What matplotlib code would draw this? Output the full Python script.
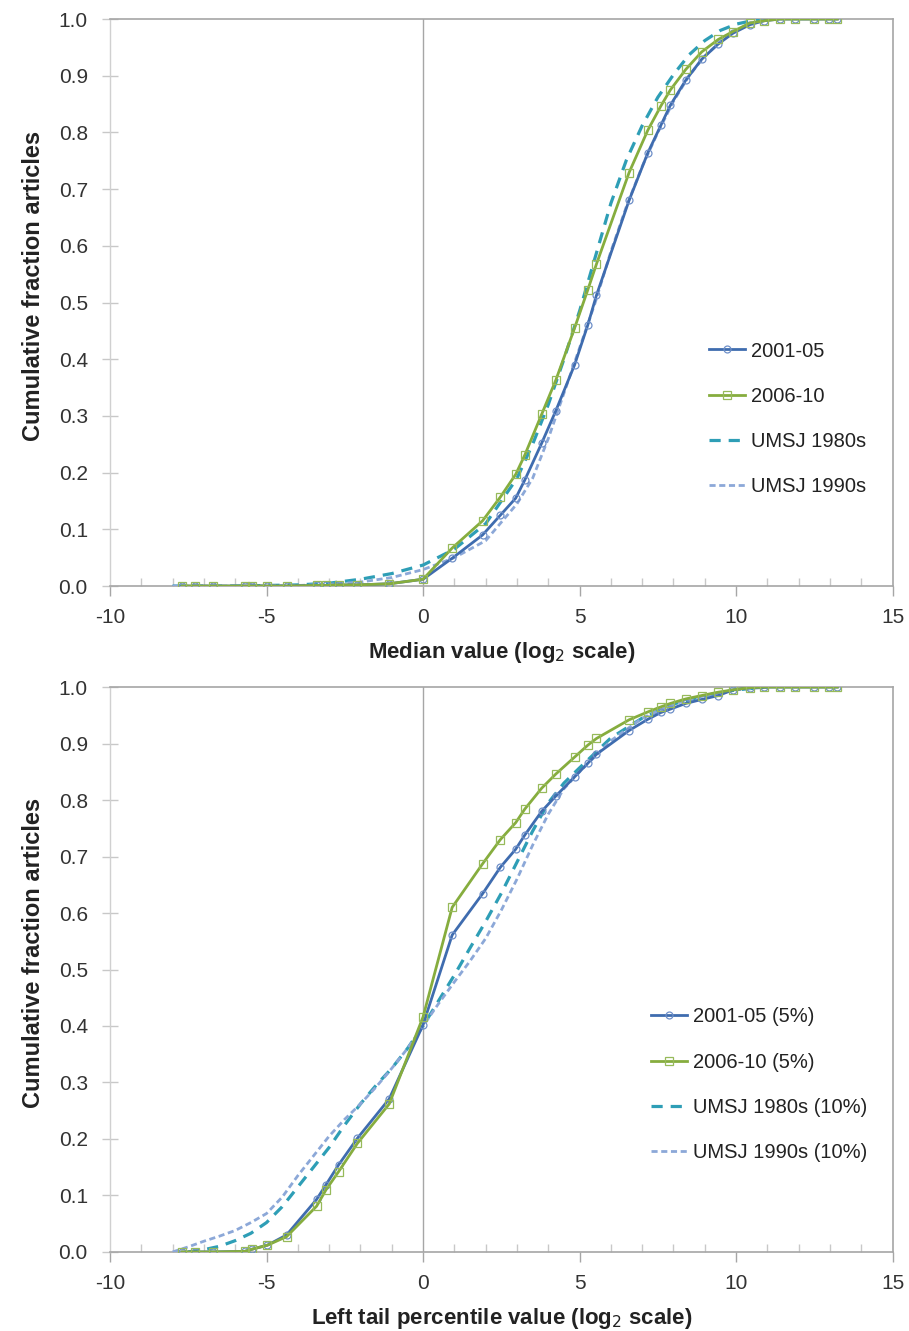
import matplotlib.pyplot as plt
from matplotlib.ticker import MultipleLocator, FormatStrFormatter

plt.rcParams["font.family"] = ["Liberation Sans Narrow", "Liberation Sans", "DejaVu Sans"]
plt.rcParams["axes.unicode_minus"] = False

# bin positions (log2) shared by the two period series
x_bins = [-7.7, -7.3, -6.7, -5.7, -5.45, -4.97, -4.36, -3.4, -3.1, -2.7, -2.1, -1.08,
          0, 0.93, 1.9, 2.47, 2.96, 3.25, 3.79, 4.24, 4.84, 5.26, 5.54, 6.58, 7.18,
          7.6, 7.9, 8.39, 8.9, 9.43, 9.9, 10.44, 10.9, 11.39, 11.89, 12.48, 12.96, 13.23]

# median values
med_2001 = [0, 0, 0, 0, 0, 0, 0, 0.001, 0.001, 0.002, 0.002, 0.004,
            0.012, 0.049, 0.09, 0.125, 0.155, 0.187, 0.252, 0.309, 0.39, 0.46, 0.513, 0.68, 0.764,
            0.813, 0.848, 0.892, 0.929, 0.956, 0.975, 0.99, 0.997, 1, 1, 1, 1, 1]
med_2006 = [0, 0, 0, 0, 0, 0, 0, 0.001, 0.001, 0.002, 0.002, 0.004,
            0.012, 0.067, 0.115, 0.157, 0.197, 0.231, 0.303, 0.363, 0.455, 0.522, 0.568, 0.729, 0.804,
            0.847, 0.875, 0.911, 0.942, 0.964, 0.978, 0.993, 0.997, 1, 1, 1, 1, 1]

x_umsj_med = [-8, -6, -4, -3, -2, -1, 0, 1, 2, 3, 3.5, 4, 4.5, 5, 5.5, 6, 6.5,
              7, 7.5, 8, 8.5, 9, 9.5, 10, 10.5, 11]
med_1980s = [0, 0, 0.002, 0.005, 0.012, 0.022, 0.037, 0.065, 0.11, 0.19, 0.25, 0.32, 0.40,
             0.485, 0.58, 0.675, 0.752, 0.812, 0.862, 0.902, 0.937, 0.962, 0.98, 0.991, 0.997, 1.0]
med_1990s = [0, 0, 0.001, 0.003, 0.007, 0.015, 0.029, 0.05, 0.08, 0.145, 0.19, 0.26, 0.34,
             0.42, 0.5, 0.59, 0.67, 0.74, 0.80, 0.855, 0.9, 0.935, 0.96, 0.98, 0.993, 1.0]

# left tail values
tail_2001 = [0, 0, 0, 0.001, 0.005, 0.012, 0.03, 0.093, 0.119, 0.154, 0.201, 0.271,
             0.402, 0.561, 0.634, 0.681, 0.713, 0.738, 0.78, 0.807, 0.841, 0.865, 0.881, 0.923, 0.943,
             0.955, 0.961, 0.971, 0.978, 0.985, 0.995, 0.999, 1, 1, 1, 1, 1, 1]
tail_2006 = [0, 0, 0, 0.001, 0.005, 0.012, 0.027, 0.081, 0.11, 0.142, 0.192, 0.262,
             0.416, 0.61, 0.687, 0.73, 0.76, 0.784, 0.821, 0.846, 0.876, 0.897, 0.909, 0.942, 0.956,
             0.965, 0.971, 0.979, 0.985, 0.991, 0.995, 0.999, 1, 1, 1, 1, 1, 1]

x_umsj_tail = [-8, -7.5, -7, -6.5, -6, -5.5, -5, -4.5, -4, -3.5, -3, -2.5, -2, -1.5, -1, -0.5,
               0, 0.5, 1, 1.5, 2, 2.5, 3, 3.5, 4, 4.5, 5, 6, 7, 8, 9, 10, 11]
tail_1980s = [None, 0, 0.004, 0.01, 0.02, 0.033, 0.052, 0.08, 0.115, 0.15, 0.185, 0.225, 0.262,
              0.295, 0.325, 0.36, 0.40, 0.445, 0.49, 0.538, 0.585, 0.635, 0.69, 0.745, 0.795,
              0.83, 0.857, 0.91, 0.945, 0.97, 0.985, 0.995, 1.0]
tail_1990s = [0, 0.009, 0.019, 0.028, 0.038, 0.052, 0.068, 0.097, 0.135, 0.17, 0.205, 0.235,
              0.262, 0.292, 0.325, 0.36, 0.40, 0.44, 0.478, 0.515, 0.555, 0.605, 0.66, 0.72,
              0.775, 0.82, 0.85, 0.905, 0.945, 0.97, 0.985, 0.995, 1.0]

labels_med = ["2001-05", "2006-10", "UMSJ 1980s", "UMSJ 1990s"]
labels_tail = ["2001-05 (5%)", "2006-10 (5%)", "UMSJ 1980s (10%)", "UMSJ 1990s (10%)"]

c_blue = "#3F6CAF"
c_green = "#86AD3E"
c_teal = "#2E9EB6"
c_light = "#8CA8D8"
c_axis = "#A6A6A6"


def draw_panel(ax, x80_all, y80, x90, y90, y01, y06, labels, xlabel, legend_pos):
    # skip points where the 1980s series has no value
    x80 = [x for x, y in zip(x80_all, y80) if y is not None]
    v80 = [y for y in y80 if y is not None]

    ax.axvline(0, color=c_axis, lw=1.0, zorder=1)
    ax.plot(x_bins, y01, color=c_blue, lw=2.0, marker="o", ms=5, mfc="none",
            mec="#6E8FC8", mew=0.9, label=labels[0], zorder=4)
    ax.plot(x_bins, y06, color=c_green, lw=2.0, marker="s", ms=5.5, mfc="none",
            mec="#97BA5A", mew=0.9, label=labels[1], zorder=5)
    ax.plot(x80, v80, color=c_teal, lw=2.3, ls=(0, (3.5, 2.5)), label=labels[2], zorder=3)
    ax.plot(x90, y90, color=c_light, lw=2.0, ls=(0, (2.2, 1.3)), label=labels[3], zorder=3)

    ax.set_xlim(-10, 15)
    ax.set_ylim(0, 1.0)
    ax.xaxis.set_major_locator(MultipleLocator(5))
    ax.xaxis.set_minor_locator(MultipleLocator(1))
    ax.yaxis.set_major_locator(MultipleLocator(0.1))
    ax.yaxis.set_major_formatter(FormatStrFormatter("%.1f"))

    for side in ["top", "right", "bottom"]:
        ax.spines[side].set_color(c_axis)
        ax.spines[side].set_linewidth(1.2)
    ax.spines["left"].set_color("#D0D0D0")
    ax.spines["left"].set_linewidth(1.0)

    ax.tick_params(axis="x", which="major", direction="out", length=7, width=1.0,
                   color=c_axis, labelsize=15, labelcolor="#333333", pad=9)
    ax.tick_params(axis="x", which="minor", direction="in", length=6, width=1.0, color="#C8C8C8")
    ax.tick_params(axis="y", direction="inout", length=12, width=1.0, color="#C8C8C8",
                   labelsize=15, labelcolor="#333333", pad=10)

    ax.set_xlabel(xlabel, fontsize=16, fontweight="bold", labelpad=9, color="#222222")
    ax.set_ylabel("Cumulative fraction articles", fontsize=17, fontweight="bold",
                  color="#222222")
    ax.yaxis.set_label_coords(-0.083, 0.53)

    leg = ax.legend(loc="center left", bbox_to_anchor=legend_pos, frameon=False,
                    fontsize=14.5, handlelength=1.8, handletextpad=0.3, labelspacing=1.3)
    for t in leg.get_texts():
        t.set_color("#222222")


fig = plt.figure(figsize=(9.09, 13.31), dpi=100)

ax1 = fig.add_axes([0.121, 0.5597, 0.861, 0.426])
draw_panel(ax1, x_umsj_med, med_1980s, x_umsj_med, med_1990s, med_2001, med_2006,
           labels_med, "Median value (log$_2$ scale)", (0.742, 0.295))

ax2 = fig.add_axes([0.121, 0.0594, 0.861, 0.4244])
draw_panel(ax2, x_umsj_tail, tail_1980s, x_umsj_tail, tail_1990s, tail_2001, tail_2006,
           labels_tail, "Left tail percentile value (log$_2$ scale)", (0.668, 0.296))

plt.savefig("out.png", dpi=100)
plt.close()
